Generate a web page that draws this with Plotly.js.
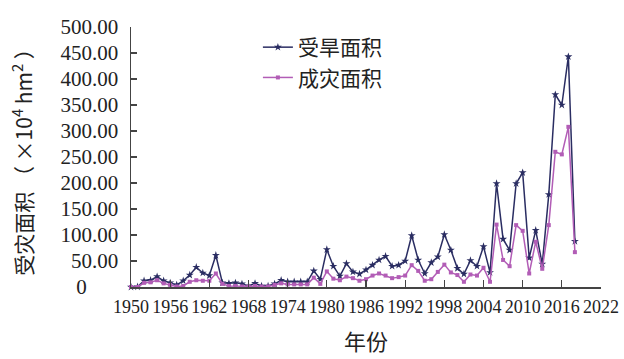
<!DOCTYPE html>
<html>
<head>
<meta charset="utf-8">
<script src="https://cdn.plot.ly/plotly-3.0.1.min.js"></script>
<style>html,body{margin:0;padding:0;background:#fff;}#chart{width:624px;height:359px;}</style>
</head>
<body>
<div id="chart"></div>
<script>
var years = [];
for (var y = 1950; y <= 2018; y++) years.push(y);

var droughtArea = [0,0.5,12,13,20,12,8,4,12,23,38,27,22,61,8,7,8,6,2,7,2,2,6,13,10,10,10,10,31,15,72,40,21,45,29,25,33,42,52,59,40,42,50,99,52,26,47,58,101,71,36,25,51,40,78,28,199,92,71,199,220,56,109,44,178,370,350,443,88];
var damageArea = [0,0,8,9,13,7,4,1,2,10,13,12,12,26,6,2,2,1,1,2,1,1,4,7,5,5,5,5,18,6,30,16,13,20,17,12,15,22,26,22,17,19,22,42,31,12,15,29,43,28,23,10,24,22,37,10,120,52,40,119,108,26,87,35,119,260,255,308,67];

var seriesNames = ['受旱面积', '成灾面积'];
var xTickVals = [1950,1956,1962,1968,1974,1980,1986,1992,1998,2004,2010,2016,2022];
var yTickVals = [0,50,100,150,200,250,300,350,400,450,500];
var yTickText = ['0\u00a0\u00a0\u00a0\u00a0\u00a0\u00a0','50.00','100.00','150.00','200.00','250.00','300.00','350.00','400.00','450.00','500.00'];
var xTitle = '年份\u3000\u00a0\u00a0\u00a0';
var yTitle = '受灾面积 （ ×10<sup>4</sup> hm<sup>2</sup> ）';

var serif = 'Liberation Serif';
var cjk = 'Noto Sans CJK SC';

var traces = [
  {x: years, y: droughtArea, name: seriesNames[0], type: 'scatter', mode: 'lines+markers',
   line: {color: '#2a2d62', width: 1.5}, marker: {symbol: 'star', size: 6, color: '#2a2d62'}, cliponaxis: false},
  {x: years, y: damageArea, name: seriesNames[1], type: 'scatter', mode: 'lines+markers',
   line: {color: '#b25db6', width: 1.5}, marker: {symbol: 'square', size: 4, color: '#b25db6'}, cliponaxis: false}
];

var layout = {
  width: 624, height: 359,
  margin: {l: 131, r: 23, t: 27, b: 72},
  paper_bgcolor: '#fff', plot_bgcolor: '#fff',
  showlegend: true,
  legend: {x: 0.27, y: 1.0, xanchor: 'left', yanchor: 'top', bgcolor: 'rgba(0,0,0,0)',
           font: {family: cjk, size: 21, color: '#222'}, tracegroupgap: 0},
  xaxis: {range: [1950, 2022], tickmode: 'array', tickvals: xTickVals, ticks: 'inside', ticklen: 7, tickangle: 0,
          tickcolor: '#444', tickwidth: 1.2, showline: true, linecolor: '#444', linewidth: 1.5,
          showgrid: false, zeroline: false, ticklabelstandoff: 3,
          tickfont: {family: serif, size: 18, color: '#222'},
          title: {text: xTitle, font: {family: cjk, size: 22, color: '#222'}, standoff: 18}},
  yaxis: {range: [0, 500], tickmode: 'array', tickvals: yTickVals, ticktext: yTickText, ticks: 'inside', ticklen: 6,
          tickcolor: '#444', tickwidth: 1.2, showline: true, linecolor: '#444', linewidth: 1.5,
          showgrid: false, zeroline: false, ticklabelstandoff: 7,
          tickfont: {family: serif, size: 21, color: '#222'},
          title: {text: yTitle, font: {family: cjk, size: 21, color: '#222'}, standoff: 22}}
};

Plotly.newPlot('chart', traces, layout, {displayModeBar: false, staticPlot: true});
</script>
</body>
</html>
